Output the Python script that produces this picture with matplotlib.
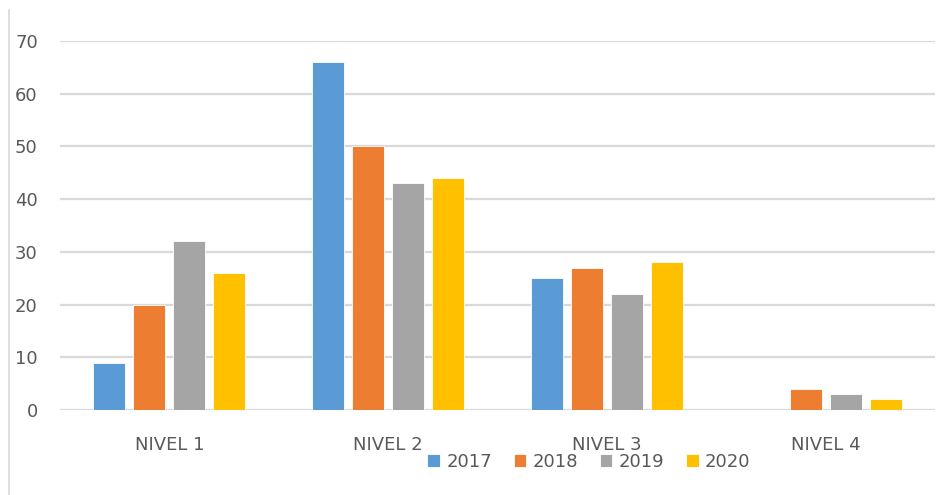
import matplotlib

matplotlib.use("Agg")
import matplotlib.pyplot as plt
from matplotlib.lines import Line2D
import numpy as np

categories = ["NIVEL 1", "NIVEL 2", "NIVEL 3", "NIVEL 4"]
years = ["2017", "2018", "2019", "2020"]
v2017 = [9, 66, 25, 0]
v2018 = [20, 50, 27, 4]
v2019 = [32, 43, 22, 3]
v2020 = [26, 44, 28, 2]
colors = ["#5b9bd5", "#ed7d31", "#a5a5a5", "#ffc000"]

plt.rcParams["font.family"] = ["DejaVu Sans"]
text_col = "#595959"

fig = plt.figure(figsize=(9.41, 4.95), dpi=100)
ax = fig.add_axes([60 / 941, 85 / 495, 875 / 941, 369 / 495])

x = np.arange(len(categories))
step = 0.183
width = 0.146
for i, (vals, col, yr) in enumerate(zip([v2017, v2018, v2019, v2020], colors, years)):
    ax.bar(x + (i - 1.5) * step, vals, width, color=col, label=yr, zorder=3,
           edgecolor="white", linewidth=0.6)

ax.set_xlim(-0.5, 3.5)
ax.set_ylim(0, 70)
ax.set_yticks(range(0, 71, 10))
ax.set_xticks(x)
ax.set_xticklabels(categories)
ax.grid(axis="y", color="#d9d9d9", linewidth=1.6, zorder=0)
ax.set_axisbelow(True)
for s in ax.spines.values():
    s.set_visible(False)
ax.tick_params(axis="both", length=0, labelsize=13, colors=text_col)
ax.tick_params(axis="y", pad=16)
ax.tick_params(axis="x", pad=19)

leg = fig.legend(loc="center", bbox_to_anchor=(589 / 941, 1 - 462 / 495), ncol=4,
                 frameon=False, fontsize=13, handlelength=0.7, handleheight=0.7,
                 handletextpad=0.35, columnspacing=1.2)
for t in leg.get_texts():
    t.set_color(text_col)

# thin border line on the left edge of the image
fig.add_artist(Line2D([9 / 941, 9 / 941], [0, 1 - 10 / 495], transform=fig.transFigure,
                      color="#d9d9d9", linewidth=1.2))

fig.savefig("out.png", dpi=100)
